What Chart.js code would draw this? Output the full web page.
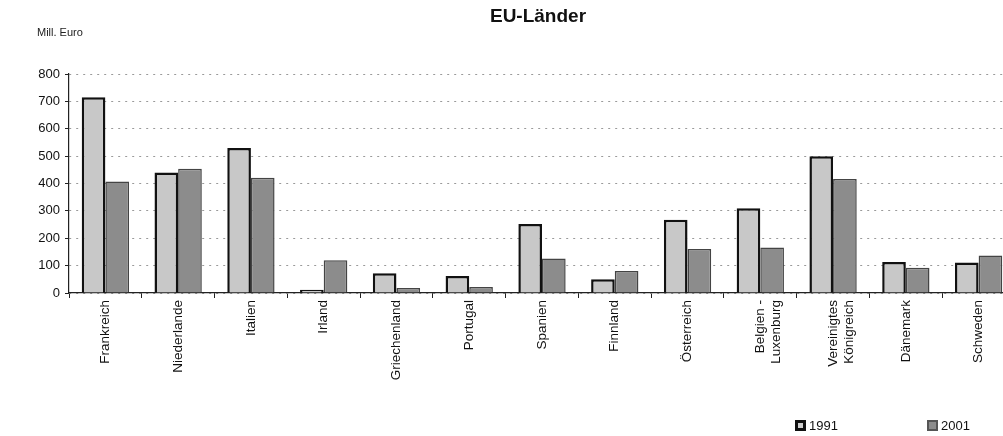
<!DOCTYPE html>
<html>
<head>
<meta charset="utf-8">
<script src="https://cdn.jsdelivr.net/npm/chart.js@4/dist/chart.umd.min.js"></script>
<style>
  html, body { margin: 0; padding: 0; background: #fff; overflow: hidden; width: 1003px; height: 436px; }
  #wrap { position: absolute; left: 0; top: 0; width: 1015px; height: 436px; }
  #title { position: absolute; left: 438px; width: 200px; top: 5px; text-align: center;
           font: bold 19px "Liberation Sans", Arial, sans-serif; color: #111; }
  #unit { position: absolute; left: 37px; top: 26px; font: 11px "Liberation Sans", Arial, sans-serif; color: #222; }
  #legend { position: absolute; top: 418px; left: 0; width: 1003px; height: 18px;
            font: 13px "Liberation Sans", Arial, sans-serif; color: #111; }
  .li { position: absolute; top: 0; display: flex; align-items: center; }
  .box { margin-right: 3px; }
</style>
</head>
<body>
<div id="wrap"><canvas id="c" width="1015" height="436"></canvas></div>
<div id="title">EU-Länder</div>
<div id="unit">Mill. Euro</div>
<div id="legend"></div>
<script>
const categories = ["Frankreich", "Niederlande", "Italien", "Irland", "Griechenland", "Portugal", "Spanien",
  "Finnland", "Österreich", ["Belgien -", "Luxenburg"], ["Vereinigtes", "Königreich"], "Dänemark", "Schweden"];
const seriesNames = ["1991", "2001"];
const values1991 = [715, 440, 530, 12, 72, 62, 252, 50, 268, 310, 500, 113, 111];
const values2001 = [407, 454, 421, 120, 18, 22, 126, 80, 161, 166, 416, 92, 137];
const yTicks = [0, 100, 200, 300, 400, 500, 600, 700, 800];

const fills = ["#c8c8c8", "#8c8c8c"];
const borders = ["#111111", "#444444"];
const borderWidths = [2.5, 1.5];

const chart = new Chart(document.getElementById("c"), {
  type: "bar",
  data: {
    labels: categories,
    datasets: [values1991, values2001].map((v, i) => ({
      label: seriesNames[i],
      data: v,
      backgroundColor: fills[i],
      borderColor: borders[i],
      borderWidth: borderWidths[i],
      categoryPercentage: 0.65,
      barPercentage: 1.0
    }))
  },
  options: {
    responsive: false,
    animation: false,
    layout: { padding: { top: 74, right: 0, bottom: 0, left: 0 } },
    plugins: { legend: { display: false }, title: { display: false }, tooltip: { enabled: false } },
    scales: {
      x: {
        afterFit: s => { s.height = 143; },
        grid: { offset: true, drawOnChartArea: false, drawTicks: true, tickLength: 5, color: "#222", tickColor: "#222" },
        border: { display: true, color: "#222", width: 1.2 },
        ticks: {
          autoSkip: false, minRotation: 90, maxRotation: 90, padding: 2,
          color: "#111", font: { family: "Liberation Sans, Arial, sans-serif", size: 13.5 }
        }
      },
      y: {
        min: 0, max: 800,
        afterFit: s => { s.width = 69; },
        afterBuildTicks: s => { s.ticks = yTicks.map(v => ({ value: v })); },
        grid: { color: "#9a9a9a", lineWidth: 1, tickLength: 4, tickColor: "#222", tickWidth: 1 },
        border: { display: true, color: "#222", width: 1.2, dash: [2, 5] },
        ticks: { padding: 5, color: "#111", font: { family: "Liberation Sans, Arial, sans-serif", size: 13 } }
      }
    }
  }
});

// HTML legend built from the datasets
const legendPos = [795, 927];
const legendBox = [
  { bg: "#cfcfcf", bd: "3px solid #111", size: 5 },
  { bg: "#8c8c8c", bd: "2px solid #555", size: 7 }
];
const lg = document.getElementById("legend");
chart.data.datasets.forEach((ds, i) => {
  const item = document.createElement("div");
  item.className = "li";
  item.style.left = legendPos[i] + "px";
  const b = document.createElement("div");
  b.className = "box";
  b.style.background = legendBox[i].bg;
  b.style.border = legendBox[i].bd;
  b.style.width = legendBox[i].size + "px";
  b.style.height = legendBox[i].size + "px";
  const t = document.createElement("span");
  t.textContent = ds.label;
  item.appendChild(b);
  item.appendChild(t);
  lg.appendChild(item);
});
</script>
</body>
</html>
